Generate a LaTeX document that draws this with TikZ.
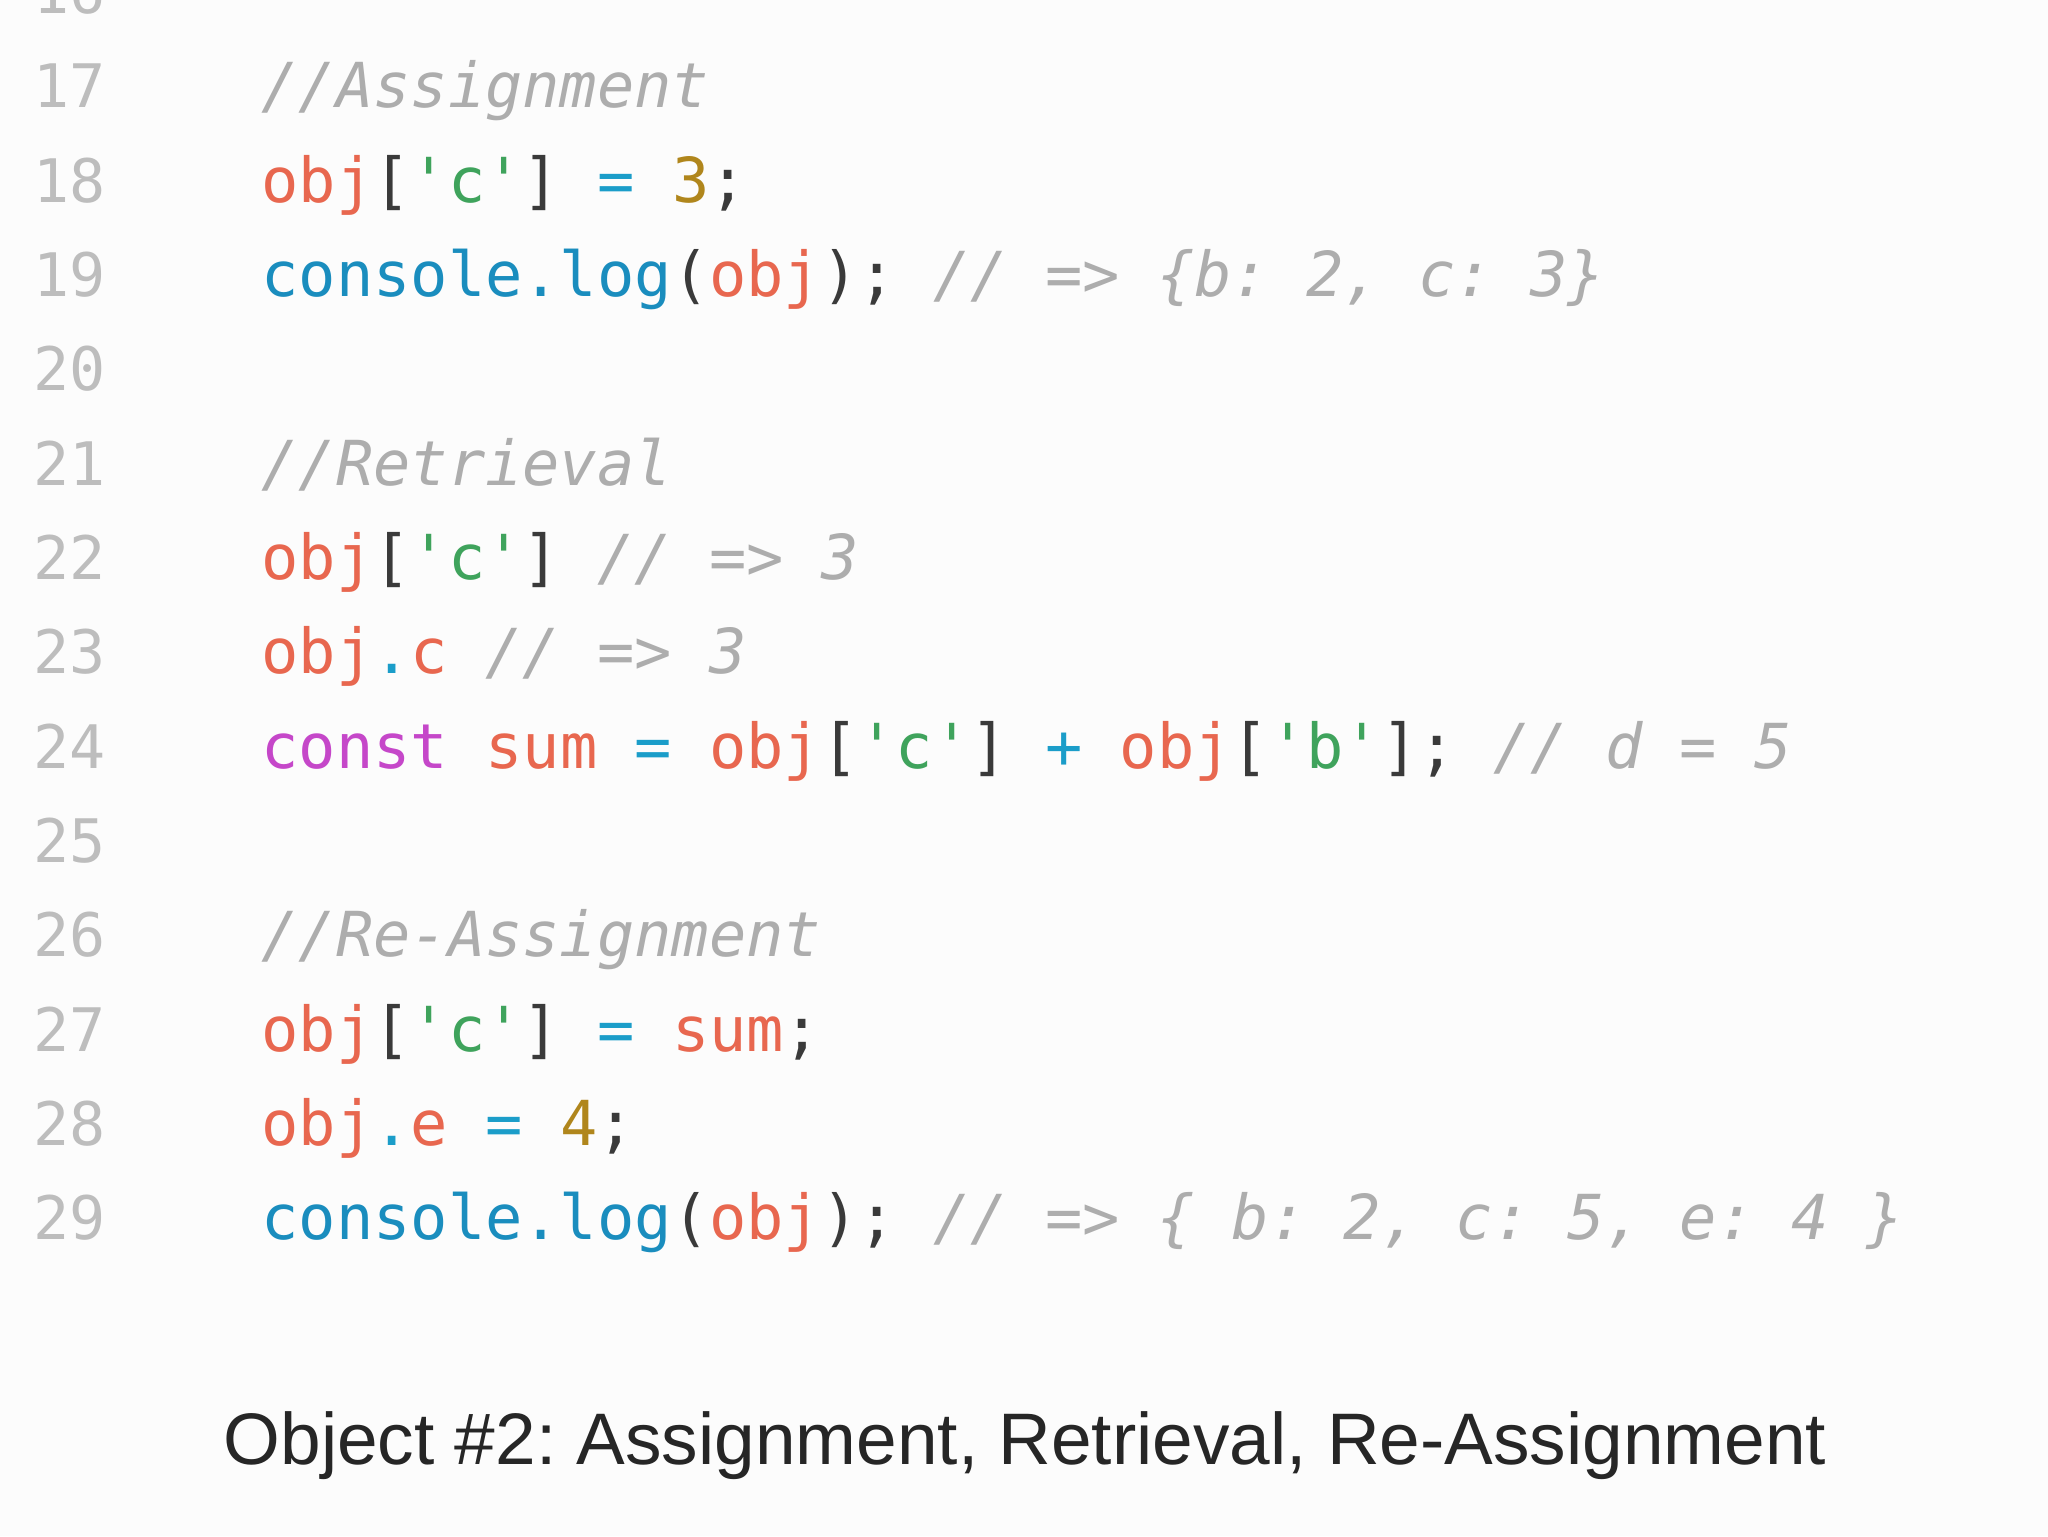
\documentclass[tikz,border=0pt]{standalone}
\usepackage{fontspec}
\usepackage{xcolor}
\newfontfamily\code{DejaVu Sans Mono}
\newfontfamily\capfont{Liberation Sans}
\frenchspacing
\definecolor{bgc}{HTML}{FCFCFC}
\definecolor{lnum}{HTML}{BDBDBD}
\definecolor{cobj}{HTML}{E8674F}
\definecolor{cstr}{HTML}{3FA35C}
\definecolor{cop}{HTML}{1B9DC9}
\definecolor{cnum}{HTML}{B0861C}
\definecolor{clog}{HTML}{1A8DBE}
\definecolor{ckw}{HTML}{C547C9}
\definecolor{cpun}{HTML}{3A3A3A}
\definecolor{ccom}{HTML}{ADADAD}
\newcommand\qq{\symbol{39}}
\newcommand\Ob{\textcolor{cobj}{obj}}
\newcommand\Pu[1]{\textcolor{cpun}{#1}}
\newcommand\Op[1]{\textcolor{cop}{#1}}
\newcommand\St[1]{\textcolor{cstr}{\qq#1\qq}}
\newcommand\Nu[1]{\textcolor{cnum}{#1}}
\newcommand\Cm[1]{\textcolor{ccom}{\itshape #1}}
\newcommand\Lg{\textcolor{clog}{console.log}}
\tikzset{
  lnno/.style={anchor=base east,text=lnum,font=\code\fontsize{30}{36}\selectfont,inner sep=0pt},
  codeln/.style={anchor=base west,font=\code\frenchspacing\fontsize{31}{37}\selectfont,inner sep=0pt},
}
\begin{document}
\begin{tikzpicture}[x=0.5pt,y=-0.5pt]
\fill[bgc] (0,0) rectangle (2048,1536);
\useasboundingbox (0,0) rectangle (2048,1536);
\foreach \n [count=\i from 0] in {16,17,18,19,20,21,22,23,24,25,26,27,28,29}
  \node[lnno] (ln\n) at (106,{108+(\i-1)*94.3}) {\n};
\node[codeln] (l17) at (261,108) {\Cm{//Assignment}};
\node[codeln] (l18) at (261,{108+1*94.3}) {\Ob\Pu{[}\St{c}\Pu{]} \Op{=} \Nu{3}\Pu{;}};
\node[codeln] (l19) at (261,{108+2*94.3}) {\Lg\Pu{(}\Ob\Pu{);} \Cm{// => \{b: 2, c: 3\}}};
\node[codeln] (l21) at (261,{108+4*94.3}) {\Cm{//Retrieval}};
\node[codeln] (l22) at (261,{108+5*94.3}) {\Ob\Pu{[}\St{c}\Pu{]} \Cm{// => 3}};
\node[codeln] (l23) at (261,{108+6*94.3}) {\Ob\Op{.}\textcolor{cobj}{c} \Cm{// => 3}};
\node[codeln] (l24) at (261,{108+7*94.3}) {\textcolor{ckw}{const} \textcolor{cobj}{sum} \Op{=} \Ob\Pu{[}\St{c}\Pu{]} \Op{+} \Ob\Pu{[}\St{b}\Pu{];} \Cm{// d = 5}};
\node[codeln] (l26) at (261,{108+9*94.3}) {\Cm{//Re-Assignment}};
\node[codeln] (l27) at (261,{108+10*94.3}) {\Ob\Pu{[}\St{c}\Pu{]} \Op{=} \textcolor{cobj}{sum}\Pu{;}};
\node[codeln] (l28) at (261,{108+11*94.3}) {\Ob\Op{.}\textcolor{cobj}{e} \Op{=} \Nu{4}\Pu{;}};
\node[codeln] (l29) at (261,{108+12*94.3}) {\Lg\Pu{(}\Ob\Pu{);} \Cm{// => \{ b: 2, c: 5, e: 4 \}}};
\node[inner sep=0pt,font=\capfont\frenchspacing\fontsize{36.5}{44}\selectfont,text=black!85] (cap) at (1025,1446) {Object \#2: Assignment, Retrieval, Re-Assignment};
\end{tikzpicture}
\end{document}
